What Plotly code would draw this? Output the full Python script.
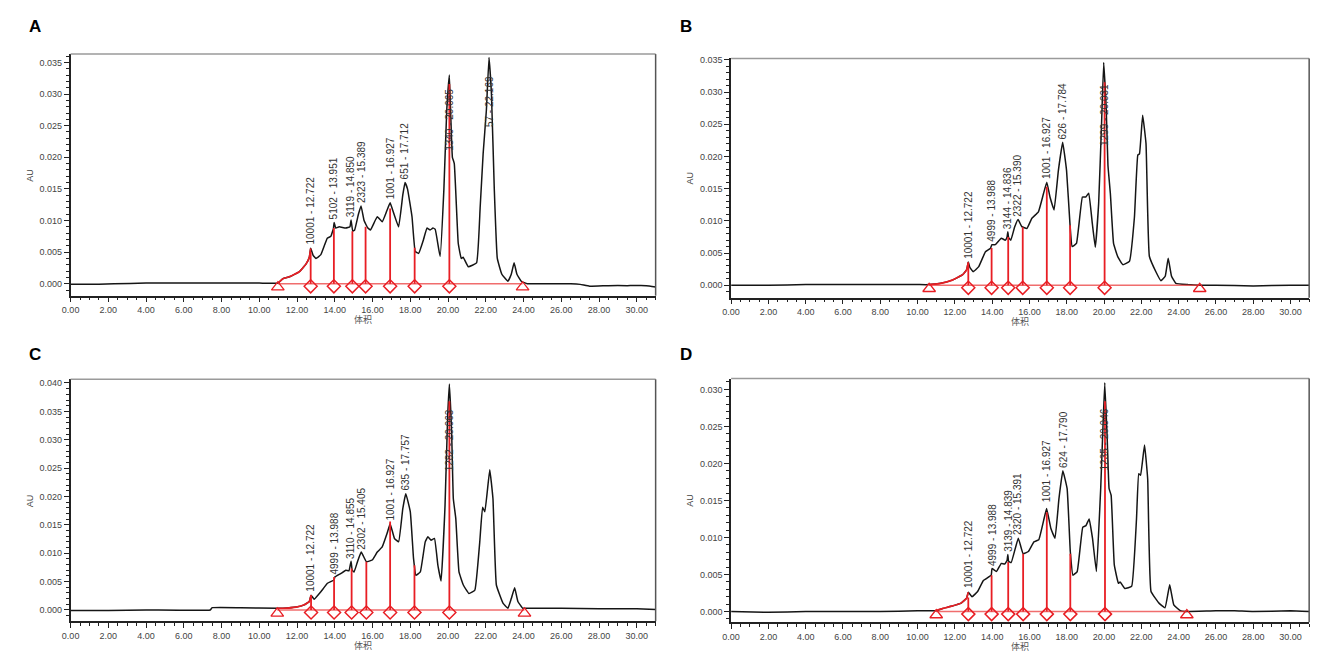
import plotly.graph_objects as go

W, H = 1325, 654

# ---------------- Panel A ----------------
vol_a = [0, 1.5, 2.3, 4.0, 6.0, 8.0, 10.0, 10.98, 11.25, 11.6, 12.12, 12.47, 12.65, 12.72, 12.85, 13.0,
         13.26, 13.6, 13.79, 13.93, 13.96, 14.05, 14.23, 14.58, 14.8, 14.86, 14.95, 15.05, 15.25, 15.39,
         15.55, 15.75, 15.89, 16.25, 16.51, 16.75, 16.93, 17.05, 17.38, 17.6, 17.72, 17.85, 18.09, 18.26,
         18.44, 18.7, 18.88, 19.05, 19.2, 19.32, 19.58, 19.78, 19.93, 20.07, 20.15, 20.23, 20.33, 20.54,
         20.7, 20.8, 21.07, 21.51, 21.7, 21.86, 22.03, 22.17, 22.3, 22.45, 22.61, 22.85, 23.17, 23.35,
         23.5, 23.65, 23.88, 24.2, 25.0, 26.5, 27.0, 27.5, 28.5, 29.5, 30.5, 31.0]
au_a = [-0.0001, -0.0001, 0.0000, 0.0001, 0.0001, 0.0001, 0.0001, 0.0001, 0.0008, 0.0011, 0.0019, 0.0031,
        0.0042, 0.0056, 0.0045, 0.0040, 0.0046, 0.0072, 0.0075, 0.0088, 0.0097, 0.0088, 0.0090, 0.0088,
        0.0090, 0.0101, 0.0083, 0.0085, 0.0110, 0.0123, 0.0100, 0.0088, 0.0085, 0.0106, 0.0098, 0.0115,
        0.0128, 0.0118, 0.0090, 0.0140, 0.0160, 0.0150, 0.0106, 0.0051, 0.0048, 0.0070, 0.0088, 0.0085,
        0.0088, 0.0086, 0.0043, 0.0150, 0.0274, 0.0330, 0.0260, 0.0200, 0.0190, 0.0064, 0.0040, 0.0042,
        0.0027, 0.0033, 0.0120, 0.0206, 0.0274, 0.0358, 0.0300, 0.0150, 0.0040, 0.0015, 0.0004, 0.0015,
        0.0033, 0.0015, 0.0004, 0.0000, 0.0000, 0.0000, -0.0001, -0.0004, -0.0003, -0.0003, -0.0003, -0.0005]
drop_x_a = [12.72, 13.95, 14.93, 15.63, 16.93, 18.23, 20.07]
drop_h_a = [0.0050, 0.0088, 0.0083, 0.0090, 0.0119, 0.0057, 0.0316]
tri_x_a = [10.98, 23.95]
lab_txt_a = ["10001 - 12.722", "5102 - 13.951", "3119 - 14.850", "2323 - 15.389",
             "1001 - 16.927", "651 - 17.712", "1340 - 20.065", "57 - 22.169"]
lab_x_a = [12.722, 13.951, 14.850, 15.389, 16.927, 17.712, 20.065, 22.169]
lab_y_a = [0.0060, 0.0100, 0.0104, 0.0126, 0.0132, 0.0164, 0.0209, 0.0247]

# ---------------- Panel B ----------------
vol_b = [0, 2.0, 4.0, 6.0, 8.0, 10.0, 10.62, 11.24, 11.86, 12.4, 12.63, 12.72, 12.8, 12.98, 13.28, 13.64,
         13.9, 13.99, 14.17, 14.49, 14.7, 14.8, 14.84, 14.88, 15.0, 15.2, 15.39, 15.59, 15.86, 16.13,
         16.48, 16.75, 16.93, 17.1, 17.32, 17.55, 17.78, 17.99, 18.17, 18.29, 18.52, 18.84, 19.02, 19.18,
         19.37, 19.53, 19.71, 19.86, 19.98, 20.12, 20.21, 20.34, 20.51, 20.74, 21.01, 21.36, 21.63, 21.81,
         21.9, 22.07, 22.25, 22.43, 22.78, 23.05, 23.28, 23.44, 23.62, 23.85, 24.5, 25.13, 26.0, 28.0,
         30.0, 31.0]
au_b = [0.0000, 0.0000, 0.0001, 0.0001, 0.0001, 0.0001, 0.0001, 0.0003, 0.0008, 0.0016, 0.0024, 0.0036,
        0.0028, 0.0021, 0.0029, 0.0052, 0.0057, 0.0063, 0.0063, 0.0073, 0.0070, 0.0075, 0.0083, 0.0074,
        0.0070, 0.0090, 0.0102, 0.0091, 0.0088, 0.0104, 0.0114, 0.0142, 0.0160, 0.0137, 0.0117, 0.0178,
        0.0222, 0.0178, 0.0096, 0.0060, 0.0065, 0.0137, 0.0137, 0.0143, 0.0096, 0.0059, 0.0127, 0.0245,
        0.0346, 0.0271, 0.0186, 0.0142, 0.0065, 0.0044, 0.0032, 0.0037, 0.0106, 0.0202, 0.0204, 0.0264,
        0.0220, 0.0045, 0.0021, 0.0007, 0.0014, 0.0042, 0.0014, 0.0003, 0.0001, 0.0000, 0.0000, -0.0001,
        0.0000, 0.0000]
drop_x_b = [12.72, 13.97, 14.86, 15.64, 16.93, 18.18, 20.03]
drop_h_b = [0.0034, 0.0058, 0.0075, 0.0090, 0.0153, 0.0093, 0.0315]
tri_x_b = [10.62, 25.13]
lab_txt_b = ["10001 - 12.722", "4999 - 13.988", "3144 - 14.836", "2322 - 15.390",
             "1001 - 16.927", "626 - 17.784", "1299 - 20.031"]
lab_x_b = [12.722, 13.988, 14.836, 15.390, 16.927, 17.784, 20.031]
lab_y_b = [0.0040, 0.0066, 0.0085, 0.0105, 0.0163, 0.0225, 0.0214]

# ---------------- Panel C ----------------
vol_c = [0, 2.0, 4.0, 7.4, 7.5, 9.0, 10.95, 11.25, 11.95, 12.38, 12.65, 12.74, 12.91, 13.26, 13.61, 13.96,
         14.0, 14.31, 14.58, 14.75, 14.86, 14.92, 15.02, 15.2, 15.4, 15.67, 15.98, 16.25, 16.51, 16.77,
         16.93, 17.16, 17.38, 17.6, 17.76, 18.0, 18.17, 18.3, 18.53, 18.79, 18.93, 19.1, 19.28, 19.46,
         19.63, 19.84, 19.98, 20.07, 20.19, 20.28, 20.41, 20.58, 20.81, 21.11, 21.42, 21.68, 21.83, 21.95,
         22.21, 22.38, 22.56, 22.91, 23.17, 23.35, 23.53, 23.7, 23.96, 24.05, 26.0, 28.0, 30.0, 31.0]
au_c = [-0.0001, -0.0001, 0.0000, 0.0000, 0.0004, 0.0004, 0.0003, 0.0003, 0.0005, 0.0009, 0.0015, 0.0026,
        0.0019, 0.0032, 0.0047, 0.0053, 0.0058, 0.0064, 0.0070, 0.0069, 0.0086, 0.0070, 0.0067, 0.0085,
        0.0102, 0.0085, 0.0088, 0.0102, 0.0111, 0.0135, 0.0152, 0.0126, 0.0120, 0.0178, 0.0205, 0.0173,
        0.0091, 0.0061, 0.0067, 0.0120, 0.0129, 0.0123, 0.0126, 0.0079, 0.0051, 0.0184, 0.0342, 0.0398,
        0.0313, 0.0196, 0.0161, 0.0067, 0.0044, 0.0029, 0.0035, 0.0120, 0.0181, 0.0173, 0.0247, 0.0196,
        0.0044, 0.0012, 0.0003, 0.0020, 0.0039, 0.0015, 0.0003, 0.0003, 0.0003, 0.0002, 0.0002, 0.0001]
drop_x_c = [12.74, 13.96, 14.89, 15.67, 16.93, 18.22, 20.07]
drop_h_c = [0.0026, 0.0058, 0.0073, 0.0085, 0.0156, 0.0079, 0.0368]
tri_x_c = [10.95, 24.05]
lab_txt_c = ["10001 - 12.722", "4999 - 13.988", "3110 - 14.855", "2302 - 15.405",
             "1001 - 16.927", "635 - 17.757", "1282 - 20.063"]
lab_x_c = [12.722, 13.988, 14.855, 15.405, 16.927, 17.757, 20.063]
lab_y_c = [0.0030, 0.0060, 0.0089, 0.0105, 0.0156, 0.0209, 0.0243]

# ---------------- Panel D ----------------
vol_d = [0, 2.0, 4.0, 6.0, 8.0, 10.0, 11.0, 11.27, 11.79, 12.31, 12.63, 12.72, 12.92, 13.22, 13.53, 13.95,
         13.99, 14.23, 14.49, 14.67, 14.8, 14.84, 14.88, 15.02, 15.4, 15.66, 15.94, 16.24, 16.5, 16.76,
         16.92, 17.15, 17.37, 17.58, 17.79, 18.02, 18.19, 18.33, 18.56, 18.86, 19.03, 19.2, 19.38, 19.59,
         19.82, 19.95, 20.04, 20.17, 20.27, 20.38, 20.55, 20.77, 20.86, 21.12, 21.48, 21.74, 21.86, 21.96,
         22.17, 22.34, 22.52, 22.96, 23.27, 23.52, 23.74, 24.09, 24.44, 26.0, 27.0, 28.0, 30.0, 31.0]
au_d = [0.0000, -0.0001, 0.0000, 0.0000, 0.0000, 0.0001, 0.0001, 0.00035, 0.0007, 0.0011, 0.0018, 0.0026,
        0.0020, 0.0027, 0.0042, 0.0049, 0.0058, 0.0054, 0.0065, 0.0064, 0.0069, 0.0077, 0.0068, 0.0066,
        0.0099, 0.0078, 0.0081, 0.0094, 0.0097, 0.0123, 0.0139, 0.0112, 0.0099, 0.0152, 0.0190, 0.0166,
        0.0081, 0.0049, 0.0054, 0.0114, 0.0116, 0.0125, 0.0099, 0.0054, 0.0166, 0.0255, 0.0309, 0.0233,
        0.0166, 0.0157, 0.0063, 0.0038, 0.0040, 0.0031, 0.0034, 0.0125, 0.0186, 0.0184, 0.0225, 0.0179,
        0.0027, 0.0011, 0.0005, 0.0036, 0.0009, 0.0001, 0.0000, 0.0001, 0.0001, 0.0000, 0.0001, 0.0000]
drop_x_d = [12.72, 13.97, 14.86, 15.66, 16.93, 18.19, 20.05]
drop_h_d = [0.0019, 0.0049, 0.0067, 0.0078, 0.0134, 0.0078, 0.0284]
tri_x_d = [11.0, 24.44]
lab_txt_d = ["10001 - 12.722", "4999 - 13.988", "3139 - 14.839", "2320 - 15.391",
             "1001 - 16.927", "624 - 17.790", "1235 - 20.046"]
lab_x_d = [12.722, 13.988, 14.839, 15.391, 16.927, 17.790, 20.046]
lab_y_d = [0.0031, 0.0060, 0.0079, 0.0102, 0.0146, 0.0193, 0.0189]

panel_letters = ["A", "B", "C", "D"]
x_title = "体积"
y_title = "AU"

# ---------------- Layout geometry (pixels) ----------------
# (left, right, top, bottom) of each plot area, and y-axis range
geo = {
    "A": (54, 643, 43.3, 286.0, [-0.00189, 0.03632]),
    "B": (719, 1301, 47.7, 288.0, [-0.00193, 0.03521]),
    "C": (54, 643, 370.0, 613.0, [-0.00198, 0.04065]),
    "D": (719, 1301, 369.3, 614.0, [-0.00144, 0.03145]),
}
letter_pos = {"A": (18, 16), "B": (674, 16), "C": (18, 345), "D": (674, 345)}

panels = {
    "A": (vol_a, au_a, drop_x_a, drop_h_a, tri_x_a, lab_txt_a, lab_x_a, lab_y_a),
    "B": (vol_b, au_b, drop_x_b, drop_h_b, tri_x_b, lab_txt_b, lab_x_b, lab_y_b),
    "C": (vol_c, au_c, drop_x_c, drop_h_c, tri_x_c, lab_txt_c, lab_x_c, lab_y_c),
    "D": (vol_d, au_d, drop_x_d, drop_h_d, tri_x_d, lab_txt_d, lab_x_d, lab_y_d),
}

RED = "rgb(232,30,36)"
BLACK = "#151515"
FONT = "Arial, Liberation Sans, sans-serif"

fig = go.Figure()
layout = dict(width=W, height=H, margin=dict(l=0, r=0, t=0, b=0),
              paper_bgcolor="white", plot_bgcolor="white", showlegend=False)
annotations = []
shapes = []

for i, key in enumerate(panel_letters):
    vol, au, dx, dh, tx, ltxt, lx, ly = panels[key]
    left, right, top, bottom, yr = geo[key]
    n = "" if i == 0 else str(i + 1)
    xa, ya = "x" + n, "y" + n
    ppu = (bottom - top) / (yr[1] - yr[0])  # pixels per AU

    layout["xaxis" + n] = dict(
        domain=[left / W, right / W], range=[0, 31], anchor=ya,
        tickmode="linear", tick0=0, dtick=2, tickformat=".2f",
        ticks="outside", ticklen=5, tickwidth=1, tickcolor="#222",
        minor=dict(dtick=0.5, ticks="outside", ticklen=3, tickcolor="#222", tickwidth=1),
        showline=True, linecolor="#222", linewidth=1.5, mirror=False,
        showgrid=False, zeroline=False,
        tickfont=dict(family=FONT, size=9, color="#444"),
    )
    layout["yaxis" + n] = dict(
        domain=[1 - bottom / H, 1 - top / H], range=yr, anchor=xa,
        tickmode="linear", tick0=0, dtick=0.005, tickformat=".3f",
        ticks="outside", ticklen=5, tickwidth=1, tickcolor="#222",
        minor=dict(dtick=0.001, ticks="outside", ticklen=3, tickcolor="#222", tickwidth=1),
        showline=True, linecolor="#222", linewidth=1.5, mirror=False,
        showgrid=False, zeroline=False,
        tickfont=dict(family=FONT, size=9, color="#444"),
    )
    # top / right borders
    shapes.append(dict(type="line", xref=xa + " domain", yref=ya + " domain",
                       x0=0, x1=1, y0=1, y1=1, line=dict(color="#9a9a9a", width=1.5)))
    shapes.append(dict(type="line", xref=xa + " domain", yref=ya + " domain",
                       x0=1, x1=1, y0=0, y1=1, line=dict(color="#555", width=1.5)))

    # chromatogram trace
    fig.add_trace(go.Scatter(x=vol, y=au, xaxis=xa, yaxis=ya, mode="lines",
                             line=dict(color=BLACK, width=1.5, shape="spline", smoothing=0.3),
                             hoverinfo="skip"))
    # red integration baseline
    fig.add_trace(go.Scatter(x=tx, y=[0, 0], xaxis=xa, yaxis=ya, mode="lines",
                             line=dict(color="rgba(235,60,60,0.75)", width=1.5), hoverinfo="skip"))
    # red curve segment from start to first drop line
    seg_x = [v for v in vol if tx[0] <= v <= dx[0]]
    seg_y = [a for v, a in zip(vol, au) if tx[0] <= v <= dx[0]]
    fig.add_trace(go.Scatter(x=seg_x, y=seg_y, xaxis=xa, yaxis=ya, mode="lines",
                             line=dict(color=RED, width=1.7, shape="spline", smoothing=0.3),
                             hoverinfo="skip"))
    # drop lines
    lx_, ly_ = [], []
    for xv, hv in zip(dx, dh):
        lx_ += [xv, xv, None]
        ly_ += [0, hv, None]
    fig.add_trace(go.Scatter(x=lx_, y=ly_, xaxis=xa, yaxis=ya, mode="lines",
                             line=dict(color=RED, width=1.8), hoverinfo="skip"))
    # diamonds and triangles
    fig.add_trace(go.Scatter(x=dx, y=[-2.6 / ppu] * len(dx), xaxis=xa, yaxis=ya, mode="markers",
                             marker=dict(symbol="diamond-open", size=10, color=RED,
                                         line=dict(width=1.5, color=RED)), hoverinfo="skip"))
    fig.add_trace(go.Scatter(x=tx, y=[-3.5 / ppu] * len(tx), xaxis=xa, yaxis=ya, mode="markers",
                             marker=dict(symbol="triangle-up-open", size=11, color=RED,
                                         line=dict(width=1.3, color=RED)), hoverinfo="skip"))
    # peak labels
    for t, xv, yv in zip(ltxt, lx, ly):
        annotations.append(dict(x=xv, y=yv, xref=xa, yref=ya, text=t, showarrow=False,
                                textangle=-90, xanchor="center", yanchor="bottom",
                                borderpad=0,
                                font=dict(family=FONT, size=10, color="#333")))
    # axis titles
    annotations.append(dict(x=(left + right) / 2 / W, y=1 - (bottom + 24) / H,
                            xref="paper", yref="paper", text=x_title, showarrow=False,
                            xanchor="center", yanchor="middle",
                            font=dict(family="Noto Sans CJK SC", size=9, color="#555")))
    annotations.append(dict(x=(left - 41) / W, y=1 - (top + bottom) / 2 / H,
                            xref="paper", yref="paper", text=y_title, showarrow=False,
                            textangle=-90, xanchor="center", yanchor="middle",
                            font=dict(family=FONT, size=9, color="#444")))
    # panel letter
    lxp, lyp = letter_pos[key]
    annotations.append(dict(x=lxp / W, y=1 - lyp / H, xref="paper", yref="paper",
                            text="<b>" + key + "</b>", showarrow=False,
                            xanchor="center", yanchor="middle",
                            font=dict(family=FONT, size=17, color="black")))

layout["annotations"] = annotations
layout["shapes"] = shapes
fig.update_layout(**layout)
fig.write_html("out.html")
